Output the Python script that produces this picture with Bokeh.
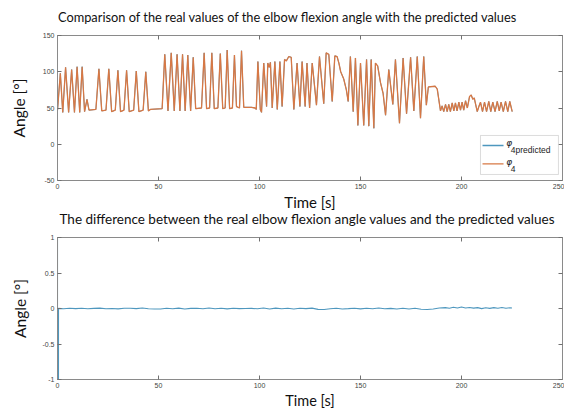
from bokeh.plotting import figure
from bokeh.layouts import column
from bokeh.models import Range1d, LinearAxis, FixedTicker, BoxAnnotation, Label, Arrow
from bokeh.embed import file_html
from bokeh.resources import INLINE

# ---------------- data ----------------
# real elbow flexion angle phi_4 [deg] vs time [s], in segments
time_a = [0.0, 1.4, 2.6, 4.0, 5.5, 7.0, 8.4, 9.7, 11.0, 12.2, 13.4, 14.6, 15.6, 19.0]
angle_a = [47, 98, 44, 106, 44, 103, 44, 107, 44, 107, 45, 62, 47, 48]

time_b = [20.5, 21.9, 24.0, 25.4, 26.8, 28.6, 29.9, 31.2, 32.9, 34.2, 35.5, 37.7, 39.0, 40.3, 42.4, 43.7, 45.0, 46.0, 51.8]
angle_b = [104, 46, 47, 104, 45, 47, 102, 45, 47, 102, 45, 47, 101, 45, 47, 100, 46, 48, 49]

time_c = [53.1, 54.7, 56.3, 57.8, 59.2, 60.6, 61.9, 63.2, 64.5, 65.9, 67.2, 68.4, 71.3]
angle_c = [124, 46, 126, 46, 124, 46, 124, 46, 123, 46, 120, 49, 50]

time_d = [72.6, 73.8, 75.3, 76.4, 77.6, 79.4, 80.6, 81.8, 83.0, 84.0, 85.2, 86.6, 87.6, 88.6, 90.1, 91.1, 92.2, 96.0, 97.8, 98.4, 99.2, 100.4, 101.0]
angle_d = [126, 49, 50, 126, 49, 50, 125, 49, 50, 130, 49, 50, 123, 52, 50, 129, 51, 51, 50, 48, 114, 48, 44]

time_e = [102.1, 103.5, 104.1, 104.8, 105.4, 106.3, 107.6, 108.8, 110.1, 111.2, 112.4, 113.3, 114.5, 115.7, 117.0,
          118.6, 120.0, 121.1, 122.6, 123.5, 124.8, 126.1, 128.2, 129.7, 131.8, 133.0, 134.3, 136.0, 137.3, 138.4,
          139.3, 140.2, 141.7, 143.0, 143.9, 145.0, 146.4, 147.5, 148.7, 150.0, 151.6, 153.0, 154.1, 155.3, 156.6,
          157.4, 158.5, 159.9, 161.2, 162.4, 164.0, 166.0, 167.3, 169.3, 171.1, 172.8, 174.8, 176.4, 178.1, 179.7,
          181.3, 182.6, 183.6, 187.0, 188.0, 189.6]
angle_e = [112, 52, 112, 106, 113, 50, 114, 48, 114, 52, 117, 115, 121, 120, 48,
           112, 52, 114, 52, 112, 50, 112, 54, 121, 56, 126, 124, 59, 122, 121,
           112, 100, 90, 75, 59, 121, 45, 119, 26, 112, 26, 117, 25, 117, 22,
           112, 108, 85, 70, 40, 103, 55, 117, 29, 119, 42, 120, 46, 121, 36,
           121, 54, 79, 80, 76, 46]

time_f = [190.4, 191.2, 192.1, 192.9, 193.7, 194.5, 195.4, 196.2, 197.0, 197.8, 198.7, 199.5, 200.3, 201.1, 202.0,
          202.9, 204.0, 204.8, 205.6, 206.3, 207.0, 207.8, 208.6, 209.4, 210.4, 211.4, 212.4, 213.5, 214.5, 215.5,
          216.6, 217.7, 218.7, 219.6, 220.7, 221.8, 222.9, 223.9, 225.1]
angle_f = [53, 45, 55, 45, 55, 45, 57, 46, 57, 46, 58, 47, 58, 47, 60,
           50, 66, 68, 62, 64, 55, 45, 52, 58, 45, 58, 45, 59, 45, 58,
           45, 59, 46, 58, 45, 59, 45, 59, 45]

# predicted series starts with two off values at t = 0, then follows the real one
pred_start_t = [0.0, 0.0]
pred_start_v = [-25, 109]

# difference real - predicted [deg]
diff_t = [0.0, 0.0, 0.5, 3, 6, 9, 12, 15, 18, 21, 24, 27, 30, 33, 36, 39, 42, 45, 48, 51, 54, 57, 60, 63, 66, 69,
          72, 75, 78, 81, 84, 87, 90, 93, 96, 99, 102, 105, 108, 111, 114, 117, 120, 123, 126, 129, 132, 135,
          138, 141, 144, 147, 150, 153, 156, 159, 162, 165, 168, 171, 174, 177, 180, 183, 186, 189, 192, 194,
          196, 198, 200, 202, 204, 206, 208, 210, 212, 214, 216, 218, 220, 222, 224, 225]
diff_v = [72.0, -62.0, 0.002, -0.003, 0.004, -0.002, 0.003, -0.004, 0.002, 0.005, -0.003, 0.001, -0.005, 0.003,
          0.004, -0.002, 0.006, -0.004, -0.008, -0.006, 0.004, -0.003, 0.005, -0.006, 0.002, 0.003,
          -0.004, 0.006, -0.003, 0.004, -0.005, 0.003, -0.002, 0.001, 0.002, -0.004, 0.006, -0.007, 0.005,
          -0.003, 0.004, -0.006, 0.003, -0.002, 0.005, -0.012, -0.015, -0.004,
          0.003, -0.006, -0.002, 0.004, -0.005, 0.003, -0.004, 0.006, -0.003, 0.002, -0.006, 0.004,
          -0.008, 0.003, -0.010, -0.014, -0.008, 0.006, 0.012, 0.004,
          0.018, 0.006, 0.022, 0.008, 0.015, 0.005, 0.012, -0.002, 0.010, 0.002, 0.012, 0.003, 0.014,
          0.004, 0.010, 0.006]

x_ticks = [0, 50, 100, 150, 200, 250]
x_tick_labels = ["0", "50", "100", "150", "200", "250"]
y1_ticks = [-50, 0, 50, 100, 150]
y1_tick_labels = ["-50", "0", "50", "100", "150"]
y2_ticks = [-1, -0.5, 0, 0.5, 1]
y2_tick_labels = ["-1", "-0.5", "0", "0.5", "1"]

title_top = "Comparison of the real values of the elbow flexion angle with the predicted values"
title_bottom = "The difference between the real elbow flexion angle values and the predicted values"
x_label = "Time [s]"
y_label = "Angle [°]"
legend_main = "φ"
legend_sub = ["4predicted", "4"]

# ---------------- assemble series ----------------
angle_t = time_a + time_b + time_c + time_d + time_e + time_f
angle_v = angle_a + angle_b + angle_c + angle_d + angle_e + angle_f
assert len(angle_t) == len(angle_v)
assert len(diff_t) == len(diff_v)
pred_t = pred_start_t + angle_t
pred_v = pred_start_v + angle_v

BLUE = "#4E97BE"
ORANGE = "#D77845"
AXIS_COL = "#8a8a8a"
TICK_FONT = "Liberation Sans"
TEXT_FONT = "Lato"
W = 564
FRAME_L, FRAME_R = 57, 562          # frame edges in page pixels (column aligns frames)
FRAME_CENTER = (FRAME_L + FRAME_R) / 2


def text_strip(height, items):
    """A strip with no axes whose coordinates are page pixels (x) and pixels from its top (y);
    it carries the titles and axis captions around the two panels."""
    s = figure(width=W, height=height, output_backend="svg", toolbar_location=None,
               x_range=Range1d(FRAME_L, FRAME_R), y_range=Range1d(height, 0),
               x_axis_type=None, y_axis_type=None,
               min_border_left=FRAME_L, min_border_right=W - FRAME_R, min_border_top=0, min_border_bottom=0,
               background_fill_color="white", border_fill_color="white")
    s.outline_line_color = None
    s.xgrid.visible = False
    s.ygrid.visible = False
    for x, y, text, size, align in items:
        s.add_layout(Label(x=x, y=y, text=text, text_font=TEXT_FONT, text_font_size=size,
                           text_color="#111111", text_align=align, text_baseline="middle"))
    return s


def make_fig(height, b_top, b_bottom, y_rng, y_ticks, y_labels, yl_standoff):
    p = figure(width=W, height=height, output_backend="svg", toolbar_location=None,
               x_range=Range1d(0, 250), y_range=Range1d(*y_rng),
               min_border_left=FRAME_L, min_border_right=W - FRAME_R,
               min_border_top=b_top, min_border_bottom=b_bottom,
               background_fill_color="white", border_fill_color="white")
    p.outline_line_color = None
    p.xgrid.visible = False
    p.ygrid.visible = False

    p.xaxis.ticker = FixedTicker(ticks=x_ticks)
    p.xaxis.major_label_overrides = dict(zip(x_ticks, x_tick_labels))
    p.yaxis.ticker = FixedTicker(ticks=y_ticks)
    p.yaxis.major_label_overrides = dict(zip(y_ticks, y_labels))
    p.yaxis.axis_label = y_label

    top_ax = LinearAxis(ticker=FixedTicker(ticks=x_ticks),
                        major_label_overrides={t: "" for t in x_ticks})
    right_ax = LinearAxis(ticker=FixedTicker(ticks=y_ticks),
                          major_label_overrides={t: "" for t in y_ticks})
    p.add_layout(top_ax, "above")
    p.add_layout(right_ax, "right")
    for ax in (top_ax, right_ax):
        ax.major_label_text_font_size = "0px"
        ax.major_label_standoff = 0

    for ax in p.axis:
        ax.axis_line_color = AXIS_COL
        ax.axis_line_width = 1
        ax.major_tick_line_color = "#707070"
        ax.major_tick_in = 4
        ax.major_tick_out = 0
        ax.minor_tick_line_color = None
        ax.axis_label_text_font = TEXT_FONT
        ax.axis_label_text_font_style = "normal"
        ax.axis_label_text_font_size = "15.5px"
        ax.axis_label_text_color = "#111111"
    for ax in p.xaxis + p.yaxis:
        if ax is top_ax or ax is right_ax:
            continue
        ax.major_label_text_font = TICK_FONT
        ax.major_label_text_font_size = "7px"
        ax.major_label_text_color = "#444444"
        ax.major_label_standoff = 3
    p.xaxis[0].major_label_standoff = 2
    p.yaxis[0].axis_label_standoff = yl_standoff
    return p


# ---------------- layout strips ----------------
s0 = text_strip(29, [(FRAME_L + 0.5, 16, title_top, "12.8px", "left")])

p1 = make_fig(164, 6, 13, (-50, 150), y1_ticks, y1_tick_labels, 12)
p1.line(pred_t, pred_v, line_color=BLUE, line_width=0.9)
p1.line(angle_t, angle_v, line_color=ORANGE, line_width=1.3)

# legend drawn by hand (MATLAB style)
p1.add_layout(BoxAnnotation(left=209.4, right=248, bottom=-41.7, top=12.1,
                            fill_color="white", fill_alpha=1, line_color="#8c8c8c", line_width=1,
                            level="overlay"))
p1.add_layout(Arrow(x_start=210.4, x_end=220.8, y_start=-1.7, y_end=-1.7, end=None,
                    line_color=BLUE, line_width=1.3, level="overlay"))
p1.add_layout(Arrow(x_start=210.4, x_end=220.8, y_start=-27.0, y_end=-27.0, end=None,
                    line_color=ORANGE, line_width=1.3, level="overlay"))
for ym, ys, sub in ((2.0, -7.4, legend_sub[0]), (-24.5, -34.0, legend_sub[1])):
    p1.add_layout(Label(x=222.2, y=ym, text=legend_main, text_font="DejaVu Sans", text_font_size="9px",
                        text_font_style="italic", text_color="#222222", text_baseline="middle",
                        level="overlay"))
    p1.add_layout(Label(x=224.4, y=ys, text=sub, text_font=TICK_FONT, text_font_size="8.5px",
                        text_color="#222222", text_baseline="middle", level="overlay"))

s1 = text_strip(35, [(FRAME_CENTER, 8.5, x_label, "15px", "center"),
                     (59, 25, title_bottom, "13.5px", "left")])

p2 = make_fig(163, 9, 12, (-1, 1), y2_ticks, y2_tick_labels, 10)
p2.line(diff_t, diff_v, line_color=BLUE, line_width=1.1)

s2 = text_strip(17, [(FRAME_CENTER, 8.5, x_label, "14.5px", "center")])

layout = column(s0, p1, s1, p2, s2, spacing=0)
open("out.html", "w").write(file_html(layout, INLINE))
